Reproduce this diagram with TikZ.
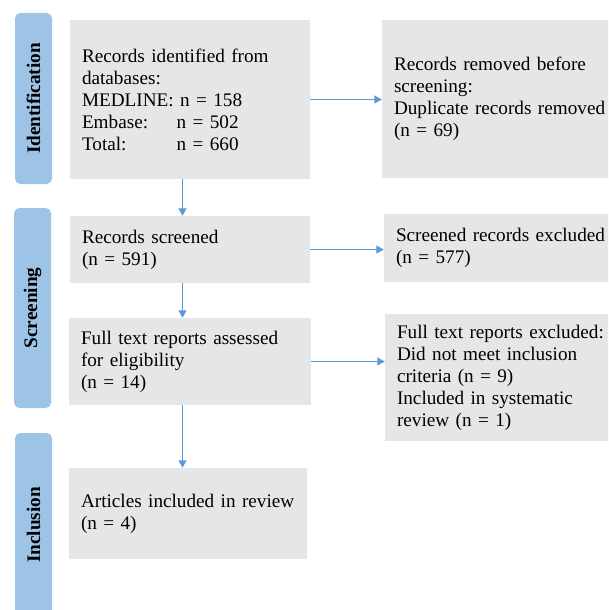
\documentclass[tikz,border=0pt]{standalone}
\usepackage{fontspec}
\setmainfont{Liberation Serif}
\usetikzlibrary{arrows.meta}
\definecolor{boxgray}{HTML}{E7E6E6}
\definecolor{phaseblue}{HTML}{9DC3E6}
\definecolor{arrowblue}{HTML}{5B9BD5}
\newcommand{\tabcol}[2]{\makebox[71pt][l]{#1}#2}
\begin{document}
\begin{tikzpicture}[x=0.75pt, y=-0.75pt,
  box/.style={fill=boxgray, inner xsep=9pt, inner ysep=0pt, align=left, font=\fontsize{14.4}{16.5}\selectfont},
  phase/.style={fill=phaseblue, rounded corners=4pt, rotate=90, minimum height=27.75pt, inner sep=0pt, font=\fontsize{14.4}{16.5}\selectfont\bfseries},
  flow/.style={-{Triangle[length=5.5pt,width=6pt]}, draw=arrowblue, line width=0.8pt}]
\clip (0,0) rectangle (608,610);
% phases
\node[phase, minimum width=128.25pt] (idbar) at (33.5,98.5) {Identification};
\node[phase, minimum width=150pt] (scrbar) at (32.5,308) {Screening};
\node[phase, minimum width=138pt] (incbar) at (33.5,525) {Inclusion};
% boxes
\node[box, minimum width=180pt, minimum height=119.25pt, text width=162pt] (ident) at (190,99.5) {Records identified from\\ databases:\\ MEDLINE: n = 158\\ \tabcol{Embase:}{n = 502}\\ \tabcol{Total:}{n = 660}};
\node[box, minimum width=178.5pt, minimum height=118.5pt, text width=160.5pt] (removed) at (501,99) {Records removed before\\ screening:\\ Duplicate records removed\\ (n = 69)};
\node[box, minimum width=180pt, minimum height=50.25pt, text width=162pt] (screened) at (190,249.5) {Records screened\\ (n = 591)};
\node[box, minimum width=177pt, minimum height=51pt, text width=159pt] (excl) at (502,248) {Screened records excluded\\ (n = 577)};
\node[box, minimum width=181.5pt, minimum height=65.25pt, text width=163.5pt] (fulltext) at (190,361.5) {Full text reports assessed\\ for eligibility\\ (n = 14)};
\node[box, minimum width=176.25pt, minimum height=95.25pt, text width=158.25pt] (ftexcl) at (502.5,377.5) {Full text reports excluded:\\ Did not meet inclusion\\ criteria (n = 9)\\ Included in systematic\\ review (n = 1)};
\node[box, minimum width=178.5pt, minimum height=68.25pt, text width=160.5pt] (incl) at (188,513.5) {Articles included in review\\ (n = 4)};
\coordinate (spine) at (182.5,0);
% arrows
\draw[flow] (ident.east) -- (ident.east -| removed.west);
\draw[flow] (screened.east) -- (screened.east -| excl.west);
\draw[flow] (fulltext.east) -- (fulltext.east -| ftexcl.west);
\draw[flow] (ident.south -| spine) -- (screened.north -| spine);
\draw[flow] (screened.south -| spine) -- (fulltext.north -| spine);
\draw[flow] (fulltext.south -| spine) -- (incl.north -| spine);
\end{tikzpicture}
\end{document}
